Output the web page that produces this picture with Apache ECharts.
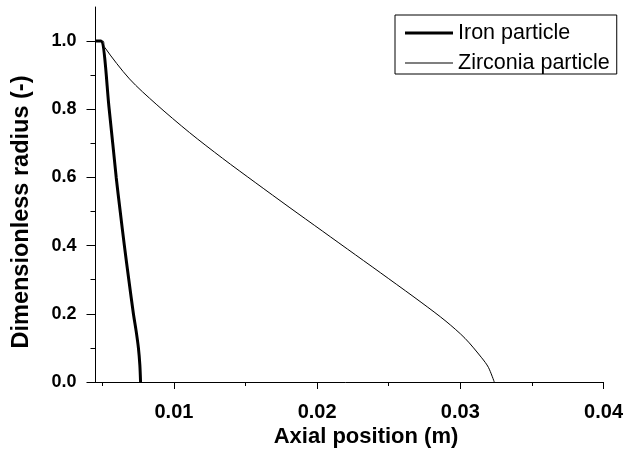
<!DOCTYPE html>
<html>
<head>
<meta charset="utf-8">
<script src="https://cdn.jsdelivr.net/npm/echarts@6/dist/echarts.min.js"></script>
<style>
  html, body { margin: 0; padding: 0; background: #fff; }
  #chart { width: 626px; height: 456px; }
</style>
</head>
<body>
<div id="chart"></div>
<script>
// values
var seriesNames = ['Iron particle', 'Zirconia particle'];

var ironX = [0.0045, 0.0049, 0.00548, 0.00597, 0.00625, 0.00654, 0.00685, 0.00717, 0.00736, 0.00752, 0.00762, 0.00767];
var ironY = [1.0, 1.0, 0.8, 0.6, 0.5, 0.4, 0.3, 0.2, 0.15, 0.1, 0.05, 0.0];

var zrX = [0.0045, 0.00505, 0.00516, 0.0069, 0.00876, 0.01108, 0.0134, 0.01572, 0.01804, 0.02036,
           0.02268, 0.025, 0.02732, 0.029, 0.03033, 0.03149, 0.03196, 0.03237];
var zrY = [1.0, 1.0, 0.982, 0.889, 0.815, 0.732, 0.656, 0.584, 0.513, 0.443,
           0.373, 0.303, 0.232, 0.178, 0.128, 0.071, 0.043, 0.0];

var xTicks = [0.01, 0.02, 0.03, 0.04];
var xMinorTicks = [0.005, 0.015, 0.025, 0.035];
var yTicks = [0.0, 0.2, 0.4, 0.6, 0.8, 1.0];
var yMinorTicks = [0.1, 0.3, 0.5, 0.7, 0.9];

function pairs(xs, ys) {
    return xs.map(function (x, i) { return [x, ys[i]]; });
}

var font = '"Liberation Sans", Arial, Helvetica, sans-serif';
var myChart = echarts.init(document.getElementById('chart'));

var option = {
    animation: false,
    textStyle: { fontFamily: font, color: '#000' },
    grid: { left: 88, right: 20, top: 7, bottom: 74 },
    legend: {
        data: [
            { name: seriesNames[0], icon: 'path://M0,0H48V3H0Z' },
            { name: seriesNames[1], icon: 'path://M0,0H48V1H0Z' }
        ],
        orient: 'vertical',
        left: 395,
        top: 15,
        itemWidth: 48,
        itemHeight: 14,
        itemGap: 8,
        itemTextGap: 6,
        padding: [7, 7, 0, 10],
        borderColor: '#000',
        borderWidth: 1,
        borderRadius: 0,
        itemStyle: { color: '#000', borderWidth: 0 },
        textStyle: { fontFamily: font, fontSize: 21.5, color: '#000', lineHeight: 20 }
    },
    xAxis: [
        {
            type: 'value',
            min: 0.004,
            max: 0.04,
            position: 'bottom',
            splitLine: { show: false },
            axisLine: { lineStyle: { color: '#000', width: 1 } },
            axisTick: { customValues: xTicks, length: 7, lineStyle: { color: '#000' } },
            axisLabel: {
                customValues: xTicks,
                margin: 20,
                fontSize: 20,
                fontWeight: 'bold',
                color: '#000',
                fontFamily: font,
                formatter: function (v) { return v.toFixed(2); }
            }
        },
        {
            type: 'value',
            min: 0.004,
            max: 0.04,
            position: 'bottom',
            splitLine: { show: false },
            axisLine: { show: false },
            axisTick: { customValues: xMinorTicks, length: 4, lineStyle: { color: '#000' } },
            axisLabel: { show: false }
        }
    ],
    yAxis: [
        {
            type: 'value',
            min: 0,
            max: 1.1,
            position: 'left',
            offset: -7.5,
            splitLine: { show: false },
            axisLine: { show: true, onZero: false, lineStyle: { color: '#000', width: 1 } },
            axisTick: { show: true, customValues: yTicks, length: 9, lineStyle: { color: '#000' } },
            axisLabel: {
                customValues: yTicks,
                margin: 19,
                fontSize: 18,
                fontWeight: 'bold',
                color: '#000',
                fontFamily: font,
                formatter: function (v) { return v.toFixed(1); }
            }
        },
        {
            type: 'value',
            min: 0,
            max: 1.1,
            position: 'left',
            offset: -7.5,
            splitLine: { show: false },
            axisLine: { show: false },
            axisTick: { show: true, customValues: yMinorTicks, length: 5, lineStyle: { color: '#000' } },
            axisLabel: { show: false }
        }
    ],
    graphic: [
        {
            type: 'text',
            x: 366,
            y: 437,
            style: {
                text: 'Axial position (m)',
                font: 'bold 22px ' + font,
                fill: '#000',
                align: 'center',
                verticalAlign: 'middle'
            }
        },
        {
            type: 'text',
            x: 22,
            y: 212,
            rotation: Math.PI / 2,
            style: {
                text: 'Dimensionless radius (-)',
                font: 'bold 23.5px ' + font,
                fill: '#000',
                align: 'center',
                verticalAlign: 'middle'
            }
        }
    ],
    series: [
        {
            name: seriesNames[0],
            type: 'line',
            symbol: 'none',
            smooth: 0.3,
            lineStyle: { color: '#000', width: 3 },
            itemStyle: { color: '#000' },
            data: pairs(ironX, ironY)
        },
        {
            name: seriesNames[1],
            type: 'line',
            symbol: 'none',
            smooth: 0.3,
            lineStyle: { color: '#000', width: 1 },
            itemStyle: { color: '#000' },
            data: pairs(zrX, zrY)
        }
    ]
};

myChart.setOption(option);
</script>
</body>
</html>
